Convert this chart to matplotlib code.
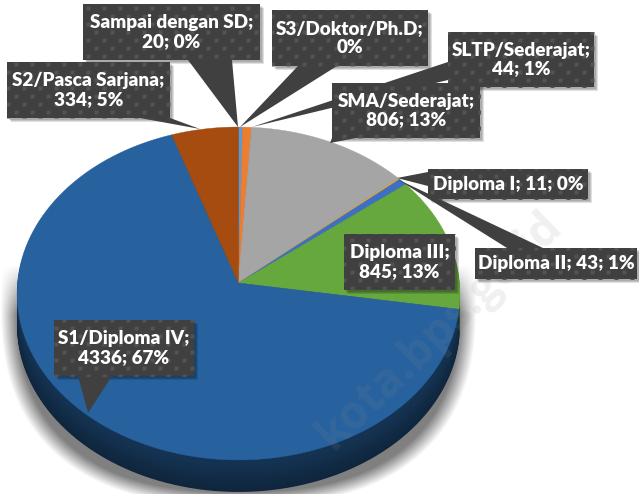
import matplotlib
matplotlib.use('Agg')
import matplotlib.pyplot as plt
import numpy as np
from matplotlib.patches import Polygon, Rectangle
from matplotlib.path import Path

categories = ['Sampai dengan SD', 'SLTP/Sederajat', 'S3/Doktor/Ph.D', 'SMA/Sederajat',
              'Diploma I', 'Diploma II', 'Diploma III', 'S1/Diploma IV', 'S2/Pasca Sarjana']
values = [20, 44, 3, 806, 11, 43, 845, 4336, 334]
colors = ['#5b9bd5', '#ed7d31', '#a5a5a5', '#a5a5a5', '#d0a850', '#3f6fc4', '#66a83e', '#27629f', '#a64c10']

# label box: text, left, top, right, bottom, pointer (base1, base2, tip)
labels = [
    ('S2/Pasca Sarjana;\n334; 5%', 7, 62, 170, 118, (140, 118), (170, 118), (200, 129)),
    ('Sampai dengan SD;\n20; 0%', 83, 4, 260, 60, (188, 60), (232, 60), (238, 127)),
    ('S3/Doktor/Ph.D;\n0%', 272, 10, 428, 66, (298, 66), (337, 66), (240, 127)),
    ('SLTP/Sederajat;\n44; 1%', 448, 32, 594, 87, (448, 62), (448, 80), (252, 127)),
    ('SMA/Sederajat;\n806; 13%', 332, 83, 480, 138, (332, 138), (356, 138), (330, 143)),
    ('Diploma I; 11; 0%', 428, 169, 588, 199, (428, 172), (428, 186), (397, 178)),
    ('Diploma II; 43; 1%', 475, 248, 637, 279, (507, 248), (543, 248), (397, 179)),
    ('Diploma III;\n845; 13%', 344, 234, 455, 290, None, None, None),
    ('S1/Diploma IV;\n4336; 67%', 54, 320, 194, 376, (78, 376), (112, 376), (88, 413)),
]

CX, CY, RX, RY, K = 238.5, 283.0, 221.0, 165.8, 0.063
DEPTH = 32


def perspective(xy):
    # tilt the flat unit pie, far edge is the top one
    w = 1 + K * xy[:, 1]
    return np.column_stack([CX + RX * xy[:, 0] / w, CY - RY * xy[:, 1] / w])


def darker(col, f):
    return tuple(c * f for c in matplotlib.colors.to_rgb(col))


def flatten(path):
    # sample the bezier arcs properly so the rim stays smooth
    pts = []
    for seg, code in path.iter_bezier():
        if code != Path.MOVETO:
            pts.append(seg(np.linspace(0, 1, 16)))
    return np.vstack(pts)


tmp = plt.figure()
wedges, _ = tmp.add_subplot().pie(values, startangle=90, counterclock=False)
outlines = []
for w in wedges:
    outlines.append(perspective(flatten(w.get_patch_transform().transform_path(w.get_path()))))
plt.close(tmp)

fig = plt.figure(figsize=(6.39, 4.94), dpi=100)
ax = fig.add_axes([0, 0, 1, 1])

# soft shadow under the pie, only the lower half shows
X, Y = np.meshgrid(np.arange(639) + 0.5, np.arange(494) + 0.5)
r = (np.abs((X - CX) / 238) ** 2.5 + np.abs((Y - 302) / 204) ** 2.5) ** 0.4
shade = np.zeros((494, 639, 4))
shade[..., 3] = np.clip((1 - r) / 0.07, 0, 1) * np.clip((Y - 265) / 50, 0, 1) * 0.5
ax.imshow(shade, extent=(0, 639, 494, 0), aspect='auto', zorder=1)
ax.set_xlim(0, 639)
ax.set_ylim(494, 0)
ax.axis('off')

# side wall
for d in range(DEPTH, 0, -1):
    f = 0.38 + 0.16 * (1 - d / DEPTH)
    for pts, col in zip(outlines, colors):
        wall = pts + [0, d]
        ax.add_patch(Polygon(wall, closed=True, fc=darker(col, f), ec='none', zorder=2))

for pts, col in zip(outlines, colors):
    ax.add_patch(Polygon(pts, closed=True, fc=col, ec=col, lw=0.3, zorder=3))

# watermark
ax.text(440, 331, 'kota.bps.go.id', fontsize=33, fontweight='bold', family='Open Sans', color='#8a8a8a',
        alpha=0.13, rotation=44, ha='center', va='center', rotation_mode='anchor', zorder=4)

# callouts
gx, gy = np.meshgrid(np.arange(0, 650, 16), np.arange(0, 500, 16))
dots_x = np.concatenate([gx.ravel(), gx.ravel() + 8])
dots_y = np.concatenate([gy.ravel(), gy.ravel() + 8])
for text, x0, y0, x1, y1, b1, b2, tip in labels:
    for off in (4, 3, 2):
        ax.add_patch(Rectangle((x0 + off, y0 + off), x1 - x0, y1 - y0, fc='black', ec='none', alpha=0.12, zorder=5))
    box = Rectangle((x0, y0), x1 - x0, y1 - y0, fc='#404040', ec='none', zorder=6)
    ax.add_patch(box)
    if tip is not None:
        ptr = Polygon([b1, b2, tip], closed=True, fc='#404040', ec='none', zorder=6)
        ax.add_patch(ptr)
    dots, = ax.plot(dots_x, dots_y, ls='none', marker='s', ms=3.4, mec='none', mfc='#535353', zorder=7)
    dots.set_clip_path(box)
    ax.text((x0 + x1) / 2, (y0 + y1) / 2, text, color='white', fontsize=13.6, fontweight='heavy',
            family='Lato', ha='center', va='center', linespacing=1.12, zorder=8)

fig.savefig('out.png', dpi=100)
